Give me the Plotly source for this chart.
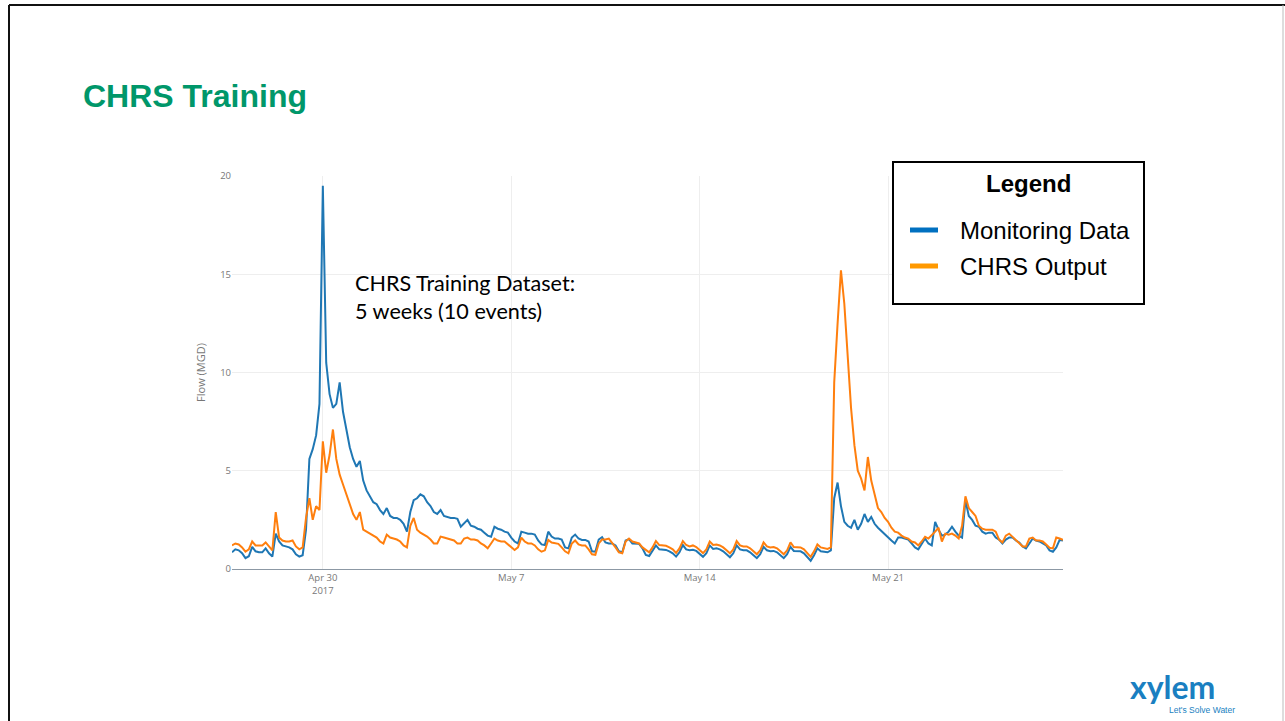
import pandas as pd
import plotly.graph_objects as go

# ---- data: 3-hourly flow (MGD), starting 2017-04-26 15:00 ----
start_time = "2017-04-26 15:00"

monitoring_flow = [
    0.85, 1.0, 0.95,                                  # Apr 26 (from 15:00)
    0.8, 0.55, 0.65, 1.13, 0.9, 0.85, 0.85, 1.05,     # Apr 27
    0.8, 0.63, 1.8, 1.4, 1.2, 1.15, 1.1, 1.0,         # Apr 28
    0.75, 0.63, 0.7, 2.0, 5.6, 6.1, 6.8, 8.4,         # Apr 29
    19.5, 10.5, 8.9, 8.2, 8.4, 9.5, 8.0, 7.1,         # Apr 30
    6.2, 5.6, 5.2, 5.5, 4.5, 4.0, 3.7, 3.4,           # May 1
    3.3, 3.0, 2.8, 3.1, 2.7, 2.6, 2.6, 2.5,           # May 2
    2.3, 1.9, 2.9, 3.5, 3.6, 3.8, 3.7, 3.4,           # May 3
    3.2, 2.9, 2.8, 3.0, 2.7, 2.65, 2.6, 2.6,          # May 4
    2.55, 2.15, 2.3, 2.5, 2.2, 2.15, 2.05, 2.0,       # May 5
    1.85, 1.7, 1.64, 2.15, 2.05, 2.0, 1.9, 1.85,      # May 6
    1.6, 1.4, 1.3, 1.9, 1.85, 1.8, 1.8, 1.75,         # May 7
    1.45, 1.25, 1.22, 1.9, 1.65, 1.55, 1.55, 1.5,     # May 8
    1.1, 1.05, 1.6, 1.75, 1.55, 1.48, 1.48, 1.4,      # May 9
    0.9, 0.88, 1.5, 1.62, 1.35, 1.3, 1.3, 1.2,        # May 10
    0.9, 0.85, 1.45, 1.52, 1.3, 1.3, 1.28, 1.05,      # May 11
    0.72, 0.66, 0.9, 1.2, 1.0, 0.97, 0.97, 0.9,       # May 12
    0.8, 0.63, 0.85, 1.22, 1.0, 0.95, 0.98, 0.92,     # May 13
    0.78, 0.62, 0.8, 1.2, 1.02, 1.05, 1.0, 0.9,       # May 14
    0.75, 0.6, 0.8, 1.2, 1.0, 0.95, 0.95, 0.85,       # May 15
    0.7, 0.55, 0.75, 1.13, 0.95, 0.9, 0.92, 0.85,     # May 16
    0.7, 0.55, 0.75, 1.13, 0.92, 0.9, 0.9, 0.8,       # May 17
    0.6, 0.42, 0.7, 1.05, 0.9, 0.88, 0.85, 0.95,      # May 18
    3.6, 4.4, 3.2, 2.4, 2.2, 2.1, 2.5, 2.0,           # May 19
    2.3, 2.8, 2.4, 2.65, 2.3, 2.1, 1.95, 1.75,        # May 20
    1.6, 1.45, 1.3, 1.6, 1.6, 1.55, 1.5, 1.3,         # May 21
    1.1, 1.0, 1.3, 1.55, 1.3, 1.2, 2.4, 2.0,          # May 22
    1.7, 1.75, 1.9, 2.15, 1.9, 1.7, 1.6, 3.5,         # May 23
    2.7, 2.5, 2.2, 2.15, 1.9, 1.8, 1.85, 1.85,        # May 24
    1.6, 1.5, 1.3, 1.5, 1.6, 1.6, 1.45, 1.35,         # May 25
    1.15, 1.05, 1.3, 1.55, 1.45, 1.4, 1.3, 1.2,       # May 26
    0.95, 0.88, 1.1, 1.48, 1.45,                      # May 27 (to 12:00)
]

chrs_output = [
    1.2, 1.3, 1.25,                                   # Apr 26 (from 15:00)
    1.1, 0.88, 1.0, 1.4, 1.2, 1.2, 1.2, 1.35,         # Apr 27
    1.15, 0.95, 2.9, 1.6, 1.45, 1.4, 1.4, 1.45,       # Apr 28
    1.15, 1.0, 1.1, 2.6, 3.6, 2.5, 3.2, 3.0,          # Apr 29
    6.5, 4.9, 5.8, 7.1, 5.6, 4.8, 4.3, 3.8,           # Apr 30
    3.3, 2.8, 2.5, 2.9, 2.0, 1.9, 1.8, 1.7,           # May 1
    1.6, 1.4, 1.3, 1.75, 1.6, 1.55, 1.5, 1.4,         # May 2
    1.2, 1.1, 2.2, 2.6, 2.0, 1.85, 1.75, 1.65,        # May 3
    1.5, 1.3, 1.3, 1.65, 1.6, 1.55, 1.5, 1.45,        # May 4
    1.3, 1.3, 1.55, 1.6, 1.5, 1.5, 1.45, 1.3,         # May 5
    1.2, 1.05, 1.3, 1.55, 1.45, 1.4, 1.4, 1.25,       # May 6
    1.1, 0.97, 1.1, 1.6, 1.4, 1.3, 1.3, 1.2,          # May 7
    1.0, 0.88, 0.95, 1.48, 1.35, 1.3, 1.28, 1.1,      # May 8
    0.9, 0.8, 1.3, 1.45, 1.25, 1.2, 1.2, 1.0,         # May 9
    0.75, 0.72, 1.3, 1.5, 1.5, 1.55, 1.35, 1.1,       # May 10
    0.85, 0.8, 1.4, 1.55, 1.4, 1.35, 1.3, 1.1,        # May 11
    0.95, 0.85, 1.1, 1.42, 1.22, 1.2, 1.18, 1.1,      # May 12
    1.0, 0.82, 1.05, 1.42, 1.22, 1.15, 1.2, 1.12,     # May 13
    0.98, 0.81, 1.0, 1.4, 1.22, 1.25, 1.2, 1.1,       # May 14
    0.95, 0.8, 1.0, 1.42, 1.2, 1.15, 1.15, 1.05,      # May 15
    0.9, 0.75, 0.95, 1.35, 1.15, 1.1, 1.12, 1.05,     # May 16
    0.9, 0.75, 0.95, 1.35, 1.12, 1.1, 1.1, 1.0,       # May 17
    0.8, 0.62, 0.9, 1.25, 1.1, 1.05, 1.02, 1.1,       # May 18
    9.5, 12.5, 15.2, 13.5, 11.0, 8.2, 6.3, 5.0,       # May 19
    4.6, 4.0, 5.7, 4.5, 3.8, 3.1, 2.9, 2.6,           # May 20
    2.4, 2.1, 1.9, 1.85, 1.7, 1.6, 1.55, 1.4,         # May 21
    1.35, 1.2, 1.4, 1.64, 1.55, 1.7, 1.9, 2.1,        # May 22
    1.4, 1.8, 1.75, 1.8, 1.7, 1.55, 2.2, 3.7,         # May 23
    3.1, 2.9, 2.7, 2.2, 2.05, 2.0, 2.0, 2.0,          # May 24
    1.9, 1.5, 1.35, 1.7, 1.8, 1.65, 1.5, 1.35,        # May 25
    1.15, 1.15, 1.55, 1.6, 1.45, 1.45, 1.4, 1.25,     # May 26
    1.08, 1.05, 1.6, 1.55, 1.48,                      # May 27 (to 12:00)
]

series_names = ["Monitoring Data", "CHRS Output"]
tick_dates = ["2017-04-30", "2017-05-07", "2017-05-14", "2017-05-21"]
tick_labels = ["Apr 30<br>2017", "May 7", "May 14", "May 21"]
y_ticks = [0, 5, 10, 15, 20]

times = pd.date_range(start_time, periods=len(monitoring_flow), freq="3h")

# ---- page geometry (pixels) ----
W_PAGE, H_PAGE = 1285, 721
L, R, T, B = 232, 1063, 176, 569


def px(x):
    return (x - L) / (R - L)


def py(y):
    return (B - y) / (B - T)


LINE_BLUE = "#1f77b4"
LINE_ORANGE = "#ff7f0e"
KEY_BLUE = "#0070c0"
KEY_ORANGE = "#ff9900"
GREEN = "#00976a"
SANS = "Arial, Liberation Sans, sans-serif"

fig = go.Figure()
fig.add_trace(go.Scatter(x=times, y=monitoring_flow, mode="lines",
                         name=series_names[0],
                         line=dict(color=LINE_BLUE, width=2)))
fig.add_trace(go.Scatter(x=times, y=chrs_output, mode="lines",
                         name=series_names[1],
                         line=dict(color=LINE_ORANGE, width=2)))

tick_font = dict(family="Open Sans", size=9.5, color="#777777")

fig.update_layout(
    width=W_PAGE, height=H_PAGE, autosize=False,
    margin=dict(l=L, r=W_PAGE - R, t=T, b=H_PAGE - B, pad=0),
    paper_bgcolor="white", plot_bgcolor="white",
    showlegend=False,
    xaxis=dict(range=[times[0], times[-1]], tickvals=tick_dates,
               ticktext=tick_labels, tickfont=tick_font,
               showgrid=True, gridcolor="#eeeeee", gridwidth=1,
               showline=True, linecolor="#8c98a4", linewidth=1,
               zeroline=False, ticks=""),
    yaxis=dict(range=[0, 20], tickvals=y_ticks, tickfont=tick_font,
               showgrid=True, gridcolor="#eeeeee", gridwidth=1,
               zeroline=False, showline=False, ticks="",
               title=dict(text="Flow (MGD)", standoff=12,
                          font=dict(family="Open Sans", size=11, color="#777777"))),
)

shapes = []
# slide frame
shapes.append(dict(type="line", xref="paper", yref="paper",
                   x0=px(9), x1=px(1285), y0=py(5), y1=py(5),
                   line=dict(color="#111111", width=2)))
shapes.append(dict(type="line", xref="paper", yref="paper",
                   x0=px(9), x1=px(9), y0=py(5), y1=py(730),
                   line=dict(color="#111111", width=2)))
shapes.append(dict(type="line", xref="paper", yref="paper",
                   x0=px(1283), x1=px(1283), y0=py(5), y1=py(730),
                   line=dict(color="#bbbbbb", width=1)))
# legend box
shapes.append(dict(type="rect", xref="paper", yref="paper",
                   x0=px(893), x1=px(1144), y0=py(304), y1=py(162),
                   line=dict(color="black", width=2), fillcolor="white"))
shapes.append(dict(type="line", xref="paper", yref="paper",
                   x0=px(910), x1=px(938), y0=py(230), y1=py(230),
                   line=dict(color=KEY_BLUE, width=5)))
shapes.append(dict(type="line", xref="paper", yref="paper",
                   x0=px(910), x1=px(938), y0=py(266), y1=py(266),
                   line=dict(color=KEY_ORANGE, width=5)))
fig.update_layout(shapes=shapes)

ann = []
ann.append(dict(text="<b>CHRS Training</b>", x=px(81), y=py(96),
                xanchor="left", yanchor="middle",
                font=dict(family=SANS, size=32, color=GREEN)))
ann.append(dict(text="<b>Legend</b>", x=px(1028), y=py(183),
                xanchor="center", yanchor="middle",
                font=dict(family=SANS, size=24, color="black")))
ann.append(dict(text=series_names[0], x=px(958), y=py(230),
                xanchor="left", yanchor="middle",
                font=dict(family=SANS, size=24, color="black")))
ann.append(dict(text=series_names[1], x=px(958), y=py(266),
                xanchor="left", yanchor="middle",
                font=dict(family=SANS, size=24, color="black")))
ann.append(dict(text="CHRS Training Dataset:<br>5 weeks (10 events)",
                x=px(353), y=py(268), xanchor="left", yanchor="top", align="left",
                font=dict(family="Lato", size=21.6, color="black")))
ann.append(dict(text="<b>xylem</b>", x=px(1172), y=py(686),
                xanchor="center", yanchor="middle",
                font=dict(family="Lato", size=32, color="#1a7fc1")))
ann.append(dict(text="Let's Solve Water", x=px(1202), y=py(710),
                xanchor="center", yanchor="middle",
                font=dict(family=SANS, size=8.5, color="#1a7fc1")))
for a in ann:
    a.update(xref="paper", yref="paper", showarrow=False)
fig.update_layout(annotations=ann)

fig.write_html("out.html")
